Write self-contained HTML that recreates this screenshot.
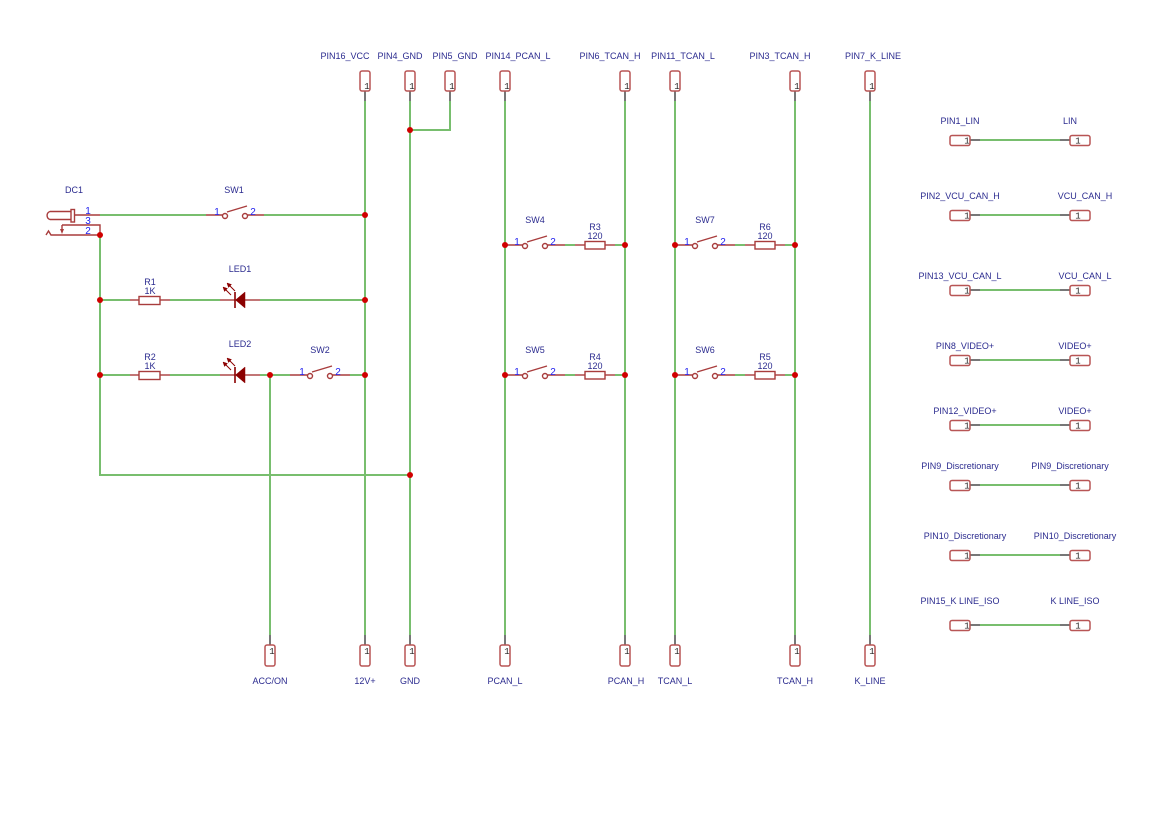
<!DOCTYPE html>
<html><head><meta charset="utf-8"><style>
html,body{margin:0;padding:0;background:#fff;}
svg{display:block;}
.lb{font-family:"Liberation Sans",Arial,sans-serif;font-size:9px;fill:#2b2b8f;text-anchor:middle;}
.pn{font-family:"Liberation Sans",Arial,sans-serif;font-size:10px;fill:#2222ee;text-anchor:middle;}
.one{font-family:"Liberation Mono",monospace;font-size:9px;fill:#222;text-anchor:middle;}
.w{stroke:#78be6e;stroke-width:2;fill:none;}
.r{stroke:#a83c3c;stroke-width:1.4;fill:none;}
.g{stroke:#777;stroke-width:2;fill:none;}
.cn{stroke:#b85555;stroke-width:1.5;fill:#fff;}
.j{fill:#d00000;}
</style></head><body>
<svg width="1169" height="827" viewBox="0 0 1169 827" xmlns="http://www.w3.org/2000/svg">
<rect width="1169" height="827" fill="#fff"/>

<text class="lb" x="345" y="59">PIN16_VCC</text>
<text class="lb" x="400" y="59">PIN4_GND</text>
<text class="lb" x="455" y="59">PIN5_GND</text>
<text class="lb" x="518" y="59">PIN14_PCAN_L</text>
<text class="lb" x="610" y="59">PIN6_TCAN_H</text>
<text class="lb" x="683" y="59">PIN11_TCAN_L</text>
<text class="lb" x="780" y="59">PIN3_TCAN_H</text>
<text class="lb" x="873" y="59">PIN7_K_LINE</text>

<g class="w">
<line x1="365" y1="101" x2="365" y2="635"/>
<line x1="410" y1="101" x2="410" y2="635"/>
<polyline points="450,101 450,130 410,130"/>
<line x1="505" y1="101" x2="505" y2="635"/>
<line x1="625" y1="101" x2="625" y2="635"/>
<line x1="675" y1="101" x2="675" y2="635"/>
<line x1="795" y1="101" x2="795" y2="635"/>
<line x1="870" y1="101" x2="870" y2="635"/>
<line x1="270" y1="375" x2="270" y2="635"/>
<polyline points="100,235 100,475 410,475"/>
<line x1="100" y1="215" x2="206" y2="215"/>
<line x1="264" y1="215" x2="365" y2="215"/>
<line x1="100" y1="300" x2="130" y2="300"/>
<line x1="170" y1="300" x2="220" y2="300"/>
<line x1="260" y1="300" x2="365" y2="300"/>
<line x1="100" y1="375" x2="130" y2="375"/>
<line x1="170" y1="375" x2="220" y2="375"/>
<line x1="260" y1="375" x2="290" y2="375"/>
<line x1="350" y1="375" x2="365" y2="375"/>
<line x1="565" y1="245" x2="575" y2="245"/><line x1="615" y1="245" x2="625" y2="245"/>
<line x1="565" y1="375" x2="575" y2="375"/><line x1="615" y1="375" x2="625" y2="375"/>
<line x1="735" y1="245" x2="745" y2="245"/><line x1="785" y1="245" x2="795" y2="245"/>
<line x1="735" y1="375" x2="745" y2="375"/><line x1="785" y1="375" x2="795" y2="375"/>
</g>

<g>
<g class="g">
<line x1="365" y1="91" x2="365" y2="101"/><line x1="410" y1="91" x2="410" y2="101"/>
<line x1="450" y1="91" x2="450" y2="101"/><line x1="505" y1="91" x2="505" y2="101"/>
<line x1="625" y1="91" x2="625" y2="101"/><line x1="675" y1="91" x2="675" y2="101"/>
<line x1="795" y1="91" x2="795" y2="101"/><line x1="870" y1="91" x2="870" y2="101"/>
</g>
<rect class="cn" x="360" y="71" width="10" height="20" rx="2"/>
<rect class="cn" x="405" y="71" width="10" height="20" rx="2"/>
<rect class="cn" x="445" y="71" width="10" height="20" rx="2"/>
<rect class="cn" x="500" y="71" width="10" height="20" rx="2"/>
<rect class="cn" x="620" y="71" width="10" height="20" rx="2"/>
<rect class="cn" x="670" y="71" width="10" height="20" rx="2"/>
<rect class="cn" x="790" y="71" width="10" height="20" rx="2"/>
<rect class="cn" x="865" y="71" width="10" height="20" rx="2"/>
<text class="one" x="367" y="89">1</text><text class="one" x="412" y="89">1</text>
<text class="one" x="452" y="89">1</text><text class="one" x="507" y="89">1</text>
<text class="one" x="627" y="89">1</text><text class="one" x="677" y="89">1</text>
<text class="one" x="797" y="89">1</text><text class="one" x="872" y="89">1</text>
</g>

<g>
<g class="g">
<line x1="270" y1="635" x2="270" y2="645"/><line x1="365" y1="635" x2="365" y2="645"/>
<line x1="410" y1="635" x2="410" y2="645"/><line x1="505" y1="635" x2="505" y2="645"/>
<line x1="625" y1="635" x2="625" y2="645"/><line x1="675" y1="635" x2="675" y2="645"/>
<line x1="795" y1="635" x2="795" y2="645"/><line x1="870" y1="635" x2="870" y2="645"/>
</g>
<rect class="cn" x="265" y="645" width="10" height="21" rx="2"/>
<rect class="cn" x="360" y="645" width="10" height="21" rx="2"/>
<rect class="cn" x="405" y="645" width="10" height="21" rx="2"/>
<rect class="cn" x="500" y="645" width="10" height="21" rx="2"/>
<rect class="cn" x="620" y="645" width="10" height="21" rx="2"/>
<rect class="cn" x="670" y="645" width="10" height="21" rx="2"/>
<rect class="cn" x="790" y="645" width="10" height="21" rx="2"/>
<rect class="cn" x="865" y="645" width="10" height="21" rx="2"/>
<text class="one" x="272" y="654">1</text><text class="one" x="367" y="654">1</text>
<text class="one" x="412" y="654">1</text><text class="one" x="507" y="654">1</text>
<text class="one" x="627" y="654">1</text><text class="one" x="677" y="654">1</text>
<text class="one" x="797" y="654">1</text><text class="one" x="872" y="654">1</text>
<text class="lb" x="270" y="684">ACC/ON</text>
<text class="lb" x="365" y="684">12V+</text>
<text class="lb" x="410" y="684">GND</text>
<text class="lb" x="505" y="684">PCAN_L</text>
<text class="lb" x="626" y="684">PCAN_H</text>
<text class="lb" x="675" y="684">TCAN_L</text>
<text class="lb" x="795" y="684">TCAN_H</text>
<text class="lb" x="870" y="684">K_LINE</text>
</g>

<text class="lb" x="74" y="193">DC1</text>
<g class="r">
<path d="M71,211.5 L50,211.5 A4.2,4.2 0 0 0 50,219.5 L71,219.5"/>
<rect x="71" y="209.5" width="3.5" height="12.5"/>
<line x1="74.5" y1="215" x2="100" y2="215"/>
<polyline points="62,225 100,225 100,235"/>
<polyline points="46,235 48.5,231 51,235 100,235"/>
<line x1="62" y1="225" x2="62" y2="230"/>
</g>
<path d="M60,229 L64,229 L62,234 Z" fill="#a83c3c"/>
<text class="pn" x="88" y="214">1</text>
<text class="pn" x="88" y="224">3</text>
<text class="pn" x="88" y="234">2</text>

<text class="lb" x="234" y="193">SW1</text>
<g class="r">
<line x1="206" y1="215" x2="222.5" y2="215"/>
<circle cx="225" cy="216" r="2.5"/>
<circle cx="245" cy="216" r="2.5"/>
<line x1="247.5" y1="215" x2="264" y2="215"/>
<line x1="227" y1="212" x2="247" y2="206"/>
</g>
<text class="pn" x="217" y="215">1</text>
<text class="pn" x="253" y="215">2</text>

<text class="lb" x="150" y="285">R1</text>
<text class="lb" x="150" y="294">1K</text>
<g class="r">
<line x1="130" y1="300" x2="139" y2="300"/>
<rect x="139" y="296.5" width="21" height="8"/>
<line x1="160" y1="300" x2="170" y2="300"/>
<line x1="220" y1="300" x2="235" y2="300"/>
<line x1="245" y1="300" x2="260" y2="300"/>
</g>
<text class="lb" x="240" y="272">LED1</text>
<g fill="#8b0000" stroke="#8b0000">
<line x1="235" y1="292" x2="235" y2="308" stroke-width="1.6"/>
<path d="M235.5,300 L245,292 L245,308 Z" stroke-width="0.5"/>
<line x1="235" y1="291" x2="229" y2="285" stroke-width="1"/>
<path d="M227,283 L231.5,284.5 L228.5,287.5 Z" stroke-width="0.5"/>
<line x1="231" y1="295" x2="225" y2="289" stroke-width="1"/>
<path d="M223,287 L227.5,288.5 L224.5,291.5 Z" stroke-width="0.5"/>
</g>

<text class="lb" x="150" y="360">R2</text>
<text class="lb" x="150" y="369">1K</text>
<g class="r">
<line x1="130" y1="375" x2="139" y2="375"/>
<rect x="139" y="371.5" width="21" height="8"/>
<line x1="160" y1="375" x2="170" y2="375"/>
<line x1="220" y1="375" x2="235" y2="375"/>
<line x1="245" y1="375" x2="260" y2="375"/>
</g>
<text class="lb" x="240" y="347">LED2</text>
<g fill="#8b0000" stroke="#8b0000">
<line x1="235" y1="367" x2="235" y2="383" stroke-width="1.6"/>
<path d="M235.5,375 L245,367 L245,383 Z" stroke-width="0.5"/>
<line x1="235" y1="366" x2="229" y2="360" stroke-width="1"/>
<path d="M227,358 L231.5,359.5 L228.5,362.5 Z" stroke-width="0.5"/>
<line x1="231" y1="370" x2="225" y2="364" stroke-width="1"/>
<path d="M223,362 L227.5,363.5 L224.5,366.5 Z" stroke-width="0.5"/>
</g>
<text class="lb" x="320" y="353">SW2</text>
<g class="r">
<line x1="290" y1="375" x2="307.5" y2="375"/>
<circle cx="310" cy="376" r="2.5"/>
<circle cx="330" cy="376" r="2.5"/>
<line x1="332.5" y1="375" x2="350" y2="375"/>
<line x1="312" y1="372" x2="332" y2="366"/>
</g>
<text class="pn" x="302" y="375">1</text>
<text class="pn" x="338" y="375">2</text>

<g>
<text class="lb" x="535" y="223">SW4</text>
<text class="lb" x="595" y="230">R3</text>
<text class="lb" x="595" y="239">120</text>
<g class="r">
<line x1="505" y1="245" x2="522.5" y2="245"/>
<circle cx="525" cy="246" r="2.5"/>
<circle cx="545" cy="246" r="2.5"/>
<line x1="547.5" y1="245" x2="565" y2="245"/>
<line x1="527" y1="242" x2="547" y2="236"/>
<line x1="575" y1="245" x2="585" y2="245"/>
<rect x="585" y="241.5" width="20" height="7.5"/>
<line x1="605" y1="245" x2="615" y2="245"/>
</g>
<text class="pn" x="517" y="245">1</text>
<text class="pn" x="553" y="245">2</text>
</g>

<g>
<text class="lb" x="535" y="353">SW5</text>
<text class="lb" x="595" y="360">R4</text>
<text class="lb" x="595" y="369">120</text>
<g class="r">
<line x1="505" y1="375" x2="522.5" y2="375"/>
<circle cx="525" cy="376" r="2.5"/>
<circle cx="545" cy="376" r="2.5"/>
<line x1="547.5" y1="375" x2="565" y2="375"/>
<line x1="527" y1="372" x2="547" y2="366"/>
<line x1="575" y1="375" x2="585" y2="375"/>
<rect x="585" y="371.5" width="20" height="7.5"/>
<line x1="605" y1="375" x2="615" y2="375"/>
</g>
<text class="pn" x="517" y="375">1</text>
<text class="pn" x="553" y="375">2</text>
</g>

<g>
<text class="lb" x="705" y="223">SW7</text>
<text class="lb" x="765" y="230">R6</text>
<text class="lb" x="765" y="239">120</text>
<g class="r">
<line x1="675" y1="245" x2="692.5" y2="245"/>
<circle cx="695" cy="246" r="2.5"/>
<circle cx="715" cy="246" r="2.5"/>
<line x1="717.5" y1="245" x2="735" y2="245"/>
<line x1="697" y1="242" x2="717" y2="236"/>
<line x1="745" y1="245" x2="755" y2="245"/>
<rect x="755" y="241.5" width="20" height="7.5"/>
<line x1="775" y1="245" x2="785" y2="245"/>
</g>
<text class="pn" x="687" y="245">1</text>
<text class="pn" x="723" y="245">2</text>
</g>

<g>
<text class="lb" x="705" y="353">SW6</text>
<text class="lb" x="765" y="360">R5</text>
<text class="lb" x="765" y="369">120</text>
<g class="r">
<line x1="675" y1="375" x2="692.5" y2="375"/>
<circle cx="695" cy="376" r="2.5"/>
<circle cx="715" cy="376" r="2.5"/>
<line x1="717.5" y1="375" x2="735" y2="375"/>
<line x1="697" y1="372" x2="717" y2="366"/>
<line x1="745" y1="375" x2="755" y2="375"/>
<rect x="755" y="371.5" width="20" height="7.5"/>
<line x1="775" y1="375" x2="785" y2="375"/>
</g>
<text class="pn" x="687" y="375">1</text>
<text class="pn" x="723" y="375">2</text>
</g>

<g class="j">
<circle cx="365" cy="215" r="3"/><circle cx="100" cy="235" r="3"/>
<circle cx="100" cy="300" r="3"/><circle cx="365" cy="300" r="3"/>
<circle cx="100" cy="375" r="3"/><circle cx="270" cy="375" r="3"/>
<circle cx="365" cy="375" r="3"/><circle cx="410" cy="130" r="3"/>
<circle cx="410" cy="475" r="3"/>
<circle cx="505" cy="245" r="3"/><circle cx="625" cy="245" r="3"/>
<circle cx="675" cy="245" r="3"/><circle cx="795" cy="245" r="3"/>
<circle cx="505" cy="375" r="3"/><circle cx="625" cy="375" r="3"/>
<circle cx="675" cy="375" r="3"/><circle cx="795" cy="375" r="3"/>
</g>

<g>
<g class="g" stroke-width="1.5">
<line x1="970" y1="140" x2="980" y2="140"/><line x1="1060" y1="140" x2="1070" y2="140"/>
<line x1="970" y1="215" x2="980" y2="215"/><line x1="1060" y1="215" x2="1070" y2="215"/>
<line x1="970" y1="290" x2="980" y2="290"/><line x1="1060" y1="290" x2="1070" y2="290"/>
<line x1="970" y1="360" x2="980" y2="360"/><line x1="1060" y1="360" x2="1070" y2="360"/>
<line x1="970" y1="425" x2="980" y2="425"/><line x1="1060" y1="425" x2="1070" y2="425"/>
<line x1="970" y1="485" x2="980" y2="485"/><line x1="1060" y1="485" x2="1070" y2="485"/>
<line x1="970" y1="555" x2="980" y2="555"/><line x1="1060" y1="555" x2="1070" y2="555"/>
<line x1="970" y1="625" x2="980" y2="625"/><line x1="1060" y1="625" x2="1070" y2="625"/>
</g>
<g class="w" stroke-width="1.6">
<line x1="980" y1="140" x2="1060" y2="140"/>
<line x1="980" y1="215" x2="1060" y2="215"/>
<line x1="980" y1="290" x2="1060" y2="290"/>
<line x1="980" y1="360" x2="1060" y2="360"/>
<line x1="980" y1="425" x2="1060" y2="425"/>
<line x1="980" y1="485" x2="1060" y2="485"/>
<line x1="980" y1="555" x2="1060" y2="555"/>
<line x1="980" y1="625" x2="1060" y2="625"/>
</g>
<g class="cn">
<rect x="950" y="135.5" width="20" height="10" rx="2"/><rect x="1070" y="135.5" width="20" height="10" rx="2"/>
<rect x="950" y="210.5" width="20" height="10" rx="2"/><rect x="1070" y="210.5" width="20" height="10" rx="2"/>
<rect x="950" y="285.5" width="20" height="10" rx="2"/><rect x="1070" y="285.5" width="20" height="10" rx="2"/>
<rect x="950" y="355.5" width="20" height="10" rx="2"/><rect x="1070" y="355.5" width="20" height="10" rx="2"/>
<rect x="950" y="420.5" width="20" height="10" rx="2"/><rect x="1070" y="420.5" width="20" height="10" rx="2"/>
<rect x="950" y="480.5" width="20" height="10" rx="2"/><rect x="1070" y="480.5" width="20" height="10" rx="2"/>
<rect x="950" y="550.5" width="20" height="10" rx="2"/><rect x="1070" y="550.5" width="20" height="10" rx="2"/>
<rect x="950" y="620.5" width="20" height="10" rx="2"/><rect x="1070" y="620.5" width="20" height="10" rx="2"/>
</g>
<g>
<text class="one" x="967" y="143.5">1</text><text class="one" x="1078" y="143.5">1</text>
<text class="one" x="967" y="218.5">1</text><text class="one" x="1078" y="218.5">1</text>
<text class="one" x="967" y="293.5">1</text><text class="one" x="1078" y="293.5">1</text>
<text class="one" x="967" y="363.5">1</text><text class="one" x="1078" y="363.5">1</text>
<text class="one" x="967" y="428.5">1</text><text class="one" x="1078" y="428.5">1</text>
<text class="one" x="967" y="488.5">1</text><text class="one" x="1078" y="488.5">1</text>
<text class="one" x="967" y="558.5">1</text><text class="one" x="1078" y="558.5">1</text>
<text class="one" x="967" y="628.5">1</text><text class="one" x="1078" y="628.5">1</text>
</g>
<text class="lb" x="960" y="124">PIN1_LIN</text><text class="lb" x="1070" y="124">LIN</text>
<text class="lb" x="960" y="199">PIN2_VCU_CAN_H</text><text class="lb" x="1085" y="199">VCU_CAN_H</text>
<text class="lb" x="960" y="279">PIN13_VCU_CAN_L</text><text class="lb" x="1085" y="279">VCU_CAN_L</text>
<text class="lb" x="965" y="349">PIN8_VIDEO+</text><text class="lb" x="1075" y="349">VIDEO+</text>
<text class="lb" x="965" y="414">PIN12_VIDEO+</text><text class="lb" x="1075" y="414">VIDEO+</text>
<text class="lb" x="960" y="469">PIN9_Discretionary</text><text class="lb" x="1070" y="469">PIN9_Discretionary</text>
<text class="lb" x="965" y="539">PIN10_Discretionary</text><text class="lb" x="1075" y="539">PIN10_Discretionary</text>
<text class="lb" x="960" y="604">PIN15_K LINE_ISO</text><text class="lb" x="1075" y="604">K LINE_ISO</text>
</g>
</svg>
</body></html>
